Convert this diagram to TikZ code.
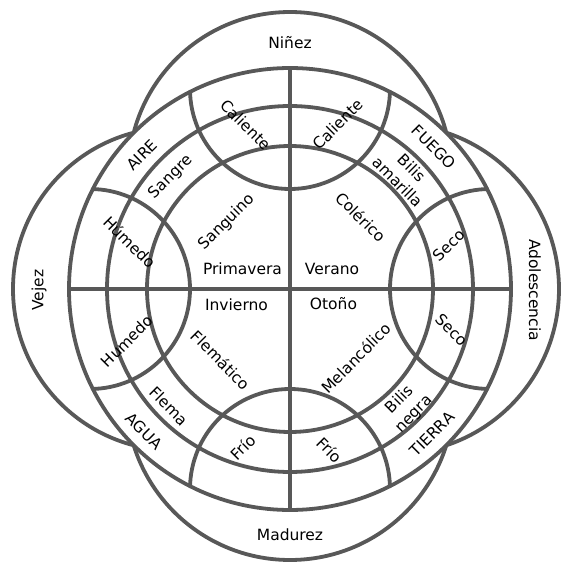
\documentclass[tikz,border=0pt]{standalone}
\usepackage{fontspec}
\setmainfont{DejaVu Sans}
\usepackage{xcolor}
\definecolor{ringgray}{RGB}{88,88,88}

\begin{document}
\begin{tikzpicture}[x=1pt,y=1pt,
    ring/.style={draw=ringgray, line width=3.8pt},
    lbl/.style={font=\fontsize{15.5}{17}\selectfont, inner sep=0pt, align=center},
    twoline/.style={lbl, font=\fontsize{15.5}{20}\selectfont}]

    \useasboundingbox (-290,-274) rectangle (272,289);

    % the four lobes (ages), cut off by the big circle
    \draw[ring] (0,115.5) circle (161.5);
    \draw[ring] (-115.5,0) circle (161.5);
    \draw[ring] (0,-107.2) circle (163.8);
    \draw[ring] (104.3,0) circle (164.7);
    \fill[white] (0,0) circle (221);

    % rings and cross
    \draw[ring] (0,0) circle (221);
    \draw[ring] (0,0) circle (183);
    \draw[ring] (0,0) circle (143);
    \draw[ring] (-221,0) -- (221,0);
    \draw[ring] (0,-221) -- (0,221);

    % qualities
    \begin{scope}
        \clip (0,0) circle (221);
        \foreach \a in {0,90,180,270}
            \draw[ring] (\a:200) circle (100);
    \end{scope}

    % ages
    \node[lbl] (ninez) at (0,246) {Niñez};
    \node[lbl] (madurez) at (0,-246) {Madurez};
    \node[lbl, rotate=90] (vejez) at (-251,-1) {Vejez};
    \node[lbl, rotate=-90] (adol) at (245,-1) {Adolescencia};

    % elements
    \node[lbl, rotate=45] (aire) at (-148,134) {AIRE};
    \node[lbl, rotate=-45] (fuego) at (144,142) {FUEGO};
    \node[lbl, rotate=-45] (agua) at (-146,-142) {AGUA};
    \node[lbl, rotate=45] (tierra) at (142,-145) {TIERRA};

    % humours
    \node[lbl, rotate=45] (sangre) at (-119,112) {Sangre};
    \node[twoline, rotate=-45] (bilisam) at (115,114) {Bilis\\amarilla};
    \node[lbl, rotate=-45] (flema) at (-121,-117) {Flema};
    \node[twoline, rotate=45] (bilisne) at (117,-118) {Bilis\\negra};

    % temperaments
    \node[lbl, rotate=45] (sanguino) at (-63,67) {Sanguino};
    \node[lbl, rotate=-45] (colerico) at (71,72) {Colérico};
    \node[lbl, rotate=-45] (flematico) at (-69,-71) {Flemático};
    \node[lbl, rotate=45] (melanc) at (66,-69) {Melancólico};

    % seasons
    \node[lbl] (primavera) at (-47.5,20) {Primavera};
    \node[lbl] (verano) at (42,20) {Verano};
    \node[lbl] (invierno) at (-53.5,-16) {Invierno};
    \node[lbl] (otono) at (43.5,-15) {Otoño};

    % qualities labels
    \node[lbl, rotate=-45] (calA) at (-44,164) {Caliente};
    \node[lbl, rotate=45] (calB) at (48,165) {Caliente};
    \node[lbl, rotate=-45] (humA) at (-160,47) {Húmedo};
    \node[lbl, rotate=45] (humB) at (-163,-52) {Humedo};
    \node[lbl, rotate=45] (secA) at (159,44) {Seco};
    \node[lbl, rotate=-45] (secB) at (162,-41) {Seco};
    \node[lbl, rotate=45] (friA) at (-47,-158) {Frío};
    \node[lbl, rotate=-45] (friB) at (40,-161) {Frío};

\end{tikzpicture}
\end{document}
